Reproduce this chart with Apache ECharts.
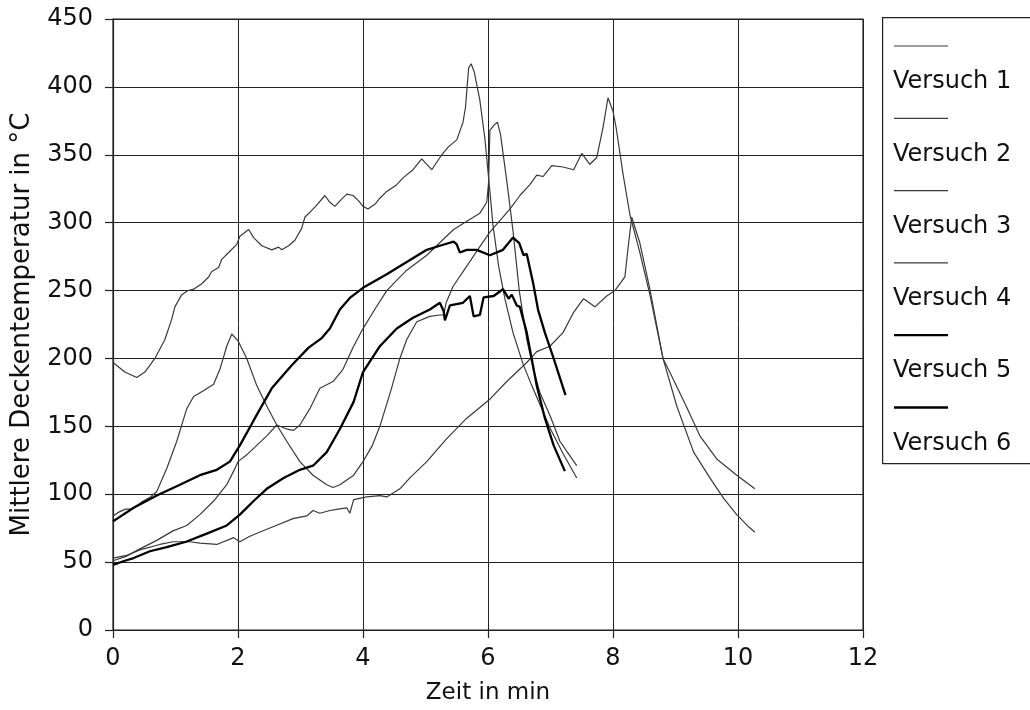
<!DOCTYPE html>
<html>
<head>
<meta charset="utf-8">
<script src="https://cdn.jsdelivr.net/npm/echarts@6/dist/echarts.min.js"></script>
<style>
html,body{margin:0;padding:0;background:#fff;}
#chart{width:1030px;height:710px;}
</style>
</head>
<body>
<div id="chart"></div>
<script>
// ---- data (x: Zeit in min, y: Mittlere Deckentemperatur in °C) ----
const seriesNames = ['Versuch 1','Versuch 2','Versuch 3','Versuch 4','Versuch 5','Versuch 6'];
const xTickValues = [0,2,4,6,8,10,12];
const yTickValues = [0,50,100,150,200,250,300,350,400,450];

const versuch1 = [[0,197],[0.19,190],[0.38,186],[0.51,190],[0.67,200],[0.83,214],[0.94,229],[0.99,238],[1.1,247],[1.2,250],[1.29,251],[1.42,255],[1.53,260],[1.58,264],[1.69,267],[1.74,273],[1.85,278],[1.98,284],[2.03,290],[2.17,295],[2.25,289],[2.38,283],[2.54,280],[2.65,282],[2.7,280],[2.81,283],[2.91,287],[3.02,296],[3.07,304],[3.18,309],[3.28,314],[3.39,320],[3.47,315],[3.55,312],[3.65,317],[3.74,321],[3.84,320],[3.93,316],[4.0,312],[4.08,310],[4.2,314],[4.27,318],[4.38,323],[4.54,328],[4.64,333],[4.8,339],[4.94,347],[5.02,343],[5.1,339],[5.26,350],[5.37,356],[5.5,361],[5.6,374],[5.64,385],[5.69,414],[5.73,417],[5.78,411],[5.87,390],[5.95,362],[6.02,328],[6.08,298],[6.17,268],[6.27,244],[6.4,219],[6.56,196],[6.7,180],[6.85,164],[7.0,148],[7.2,130],[7.42,112]];
const versuch2 = [[0,84],[0.1,87],[0.2,89],[0.3,89],[0.45,94],[0.6,98],[0.7,102],[0.86,119],[1.02,139],[1.18,163],[1.29,172],[1.44,176],[1.61,181],[1.71,192],[1.82,209],[1.9,218],[2.0,213],[2.14,200],[2.3,180],[2.46,165],[2.62,151],[2.78,139],[2.99,124],[3.2,114],[3.42,107],[3.52,105],[3.63,107],[3.85,114],[4.0,124],[4.15,136],[4.27,150],[4.45,177],[4.59,200],[4.7,214],[4.86,227],[5.07,231],[5.23,232],[5.29,232],[5.33,241],[5.44,253],[5.66,268],[5.85,281],[6.03,293],[6.2,302],[6.35,310],[6.51,320],[6.67,328],[6.78,335],[6.88,334],[7.02,342],[7.2,341],[7.37,339],[7.5,351],[7.63,343],[7.74,348],[7.84,370],[7.92,392],[8.0,382],[8.05,370],[8.16,336],[8.27,306],[8.43,278],[8.59,247],[8.8,200],[9.02,165],[9.29,131],[9.55,112],[9.77,97],[9.98,85],[10.17,76],[10.27,72]];
const versuch3 = [[0,51],[0.2,54],[0.4,59],[0.7,66],[0.96,73],[1.18,77],[1.39,85],[1.61,95],[1.82,107],[1.93,117],[2.0,124],[2.14,129],[2.3,136],[2.46,143],[2.62,151],[2.78,148],[2.89,147],[2.99,151],[3.15,163],[3.31,178],[3.52,183],[3.68,192],[3.84,208],[4.0,222],[4.2,237],[4.38,250],[4.55,258],[4.7,265],[5.02,276],[5.29,288],[5.45,295],[5.66,301],[5.87,307],[5.98,315],[6.01,330],[6.03,368],[6.1,372],[6.15,374],[6.2,365],[6.3,331],[6.4,294],[6.5,250],[6.62,214],[6.72,193],[6.83,175],[7.0,157],[7.15,139],[7.3,129],[7.42,121]];
const versuch4 = [[0,53],[0.22,55],[0.43,59],[0.75,63],[0.96,65],[1.23,65],[1.39,64],[1.66,63],[1.93,68],[2.03,65],[2.19,69],[2.45,74],[2.61,77],[2.88,82],[3.1,84],[3.2,88],[3.31,86],[3.47,88],[3.6,89],[3.74,90],[3.79,86],[3.85,96],[4.06,98],[4.27,99],[4.38,98],[4.59,104],[4.75,112],[5.02,124],[5.34,141],[5.66,156],[6.03,170],[6.3,183],[6.62,197],[6.78,205],[6.99,209],[7.2,219],[7.37,234],[7.53,244],[7.71,238],[7.9,246],[8.03,250],[8.19,260],[8.25,285],[8.3,304],[8.33,305],[8.43,285],[8.59,251],[8.8,200],[8.96,185],[9.17,165],[9.39,143],[9.66,126],[9.98,114],[10.27,104]];
const versuch5 = [[0,80],[0.33,90],[0.7,99],[1.07,107],[1.39,114],[1.66,118],[1.87,124],[2.03,136],[2.27,156],[2.54,178],[2.86,195],[3.13,208],[3.34,215],[3.47,222],[3.63,236],[3.8,245],[4.0,252],[4.38,262],[4.7,271],[5.02,280],[5.23,283],[5.45,286],[5.5,284],[5.55,278],[5.66,280],[5.82,280],[6.03,276],[6.24,280],[6.4,289],[6.5,285],[6.57,276],[6.62,277],[6.72,256],[6.8,236],[6.91,219],[7.05,200],[7.24,173]];
const versuch6 = [[0,48],[0.19,51],[0.33,53],[0.59,58],[0.86,61],[1.17,65],[1.5,71],[1.82,77],[2.03,85],[2.25,95],[2.46,104],[2.73,112],[2.99,118],[3.2,121],[3.42,131],[3.63,148],[3.85,168],[4.0,190],[4.27,209],[4.54,222],[4.8,230],[5.07,236],[5.23,241],[5.29,235],[5.31,228],[5.39,239],[5.6,241],[5.71,246],[5.77,231],[5.87,232],[5.93,245],[6.09,246],[6.24,251],[6.33,244],[6.38,247],[6.46,239],[6.51,238],[6.62,219],[6.78,180],[6.91,156],[7.05,136],[7.23,117]];

const seriesData = [versuch1, versuch2, versuch3, versuch4, versuch5, versuch6];

// ---- styles ----
const FONT = 'DejaVu Sans';
const thin = {color:'#3a3a3a', width:1.2};
const thick = {color:'#000', width:2.3};
const styles = [thin, thin, thin, thin, thick, thick];

const chart = echarts.init(document.getElementById('chart'));

const series = seriesNames.map((n,i)=>({
  name:n, type:'line', data:seriesData[i], showSymbol:false, symbol:'none',
  lineStyle:{color:styles[i].color, width:styles[i].width},
  itemStyle:{color:styles[i].color},
  animation:false, z:3
}));

// legend box drawn as graphic (line sample above each label)
const legendGraphics = [{
  type:'rect', left:882, top:17, shape:{width:160, height:446},
  style:{fill:'#fff', stroke:'#222', lineWidth:1.2}, z:10
}];
seriesNames.forEach((n,i)=>{
  const yLine = 46 + i*72.3;
  legendGraphics.push({
    type:'line', z:11,
    shape:{x1:894, y1:yLine, x2:948, y2:yLine},
    style:{stroke:styles[i].color, lineWidth:styles[i].width}
  });
  legendGraphics.push({
    type:'text', z:11, left:893, top:yLine+24,
    style:{text:n, font:'24px "'+FONT+'"', fill:'#111'}
  });
});

const axisCommon = {
  axisLine:{show:true, lineStyle:{color:'#222', width:1.2}},
  axisTick:{show:true, inside:false, length:8, lineStyle:{color:'#222', width:1.2}},
  splitLine:{show:true, lineStyle:{color:'#222', width:1}},
};

chart.setOption({
  backgroundColor:'#fff',
  animation:false,
  grid:{left:113, right:167, top:19, bottom:78, show:true, borderColor:'#222', borderWidth:1.2, backgroundColor:'transparent'},
  xAxis:Object.assign({
    type:'value', min:0, max:12, interval:2,
    axisLabel:{fontFamily:FONT, fontSize:24, color:'#111', margin:17,
      formatter:v=> xTickValues.includes(v) ? String(v) : ''},
    name:'Zeit in min', nameLocation:'middle', nameGap:52,
    nameTextStyle:{fontFamily:FONT, fontSize:23, color:'#111'}
  }, axisCommon),
  yAxis:Object.assign({
    type:'value', min:0, max:450, interval:50,
    axisLabel:{fontFamily:FONT, fontSize:24, color:'#111', margin:20,
      formatter:v=> yTickValues.includes(v) ? String(v) : ''},
    name:'Mittlere Deckentemperatur in °C', nameLocation:'middle', nameGap:78,
    nameTextStyle:{fontFamily:FONT, fontSize:26, color:'#111'}
  }, axisCommon),
  series:series,
  graphic:legendGraphics
});
</script>
</body>
</html>
